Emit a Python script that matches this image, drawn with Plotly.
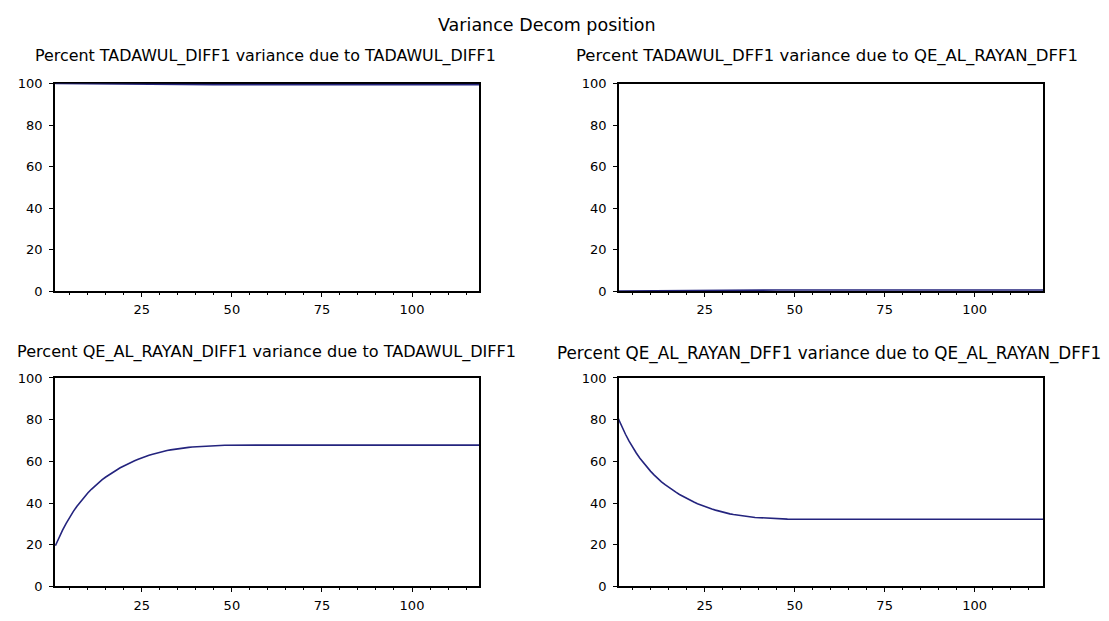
import plotly.graph_objects as go

# page body has an 8px margin, so the figure is drawn 8px in from the window edge
OFF = 8
W, H = 1109 - 2 * OFF, 621 - 2 * OFF

# ---- data ----
periods = list(range(1, 49)) + [60, 80, 100, 120]

tadawul_own = [100.0, 99.98, 99.96, 99.94, 99.92, 99.9, 99.88, 99.86, 99.84, 99.82,
               99.8, 99.79, 99.78, 99.77, 99.76, 99.75, 99.74, 99.73, 99.72, 99.71,
               99.7, 99.69, 99.68, 99.67, 99.66, 99.65, 99.64, 99.63, 99.62, 99.61,
               99.6, 99.6, 99.59, 99.59, 99.58, 99.58, 99.57, 99.57, 99.56, 99.56,
               99.5, 99.5, 99.5, 99.5, 99.5, 99.5, 99.5, 99.5,
               99.5, 99.5, 99.5, 99.5]

tadawul_by_qe = [0.0, 0.02, 0.04, 0.06, 0.08, 0.1, 0.12, 0.14, 0.16, 0.18,
                 0.2, 0.21, 0.22, 0.23, 0.24, 0.25, 0.26, 0.27, 0.28, 0.29,
                 0.3, 0.31, 0.32, 0.33, 0.34, 0.35, 0.36, 0.37, 0.38, 0.39,
                 0.4, 0.4, 0.41, 0.41, 0.42, 0.42, 0.43, 0.43, 0.44, 0.44,
                 0.5, 0.5, 0.5, 0.5, 0.5, 0.5, 0.5, 0.5,
                 0.5, 0.5, 0.5, 0.5]

qe_by_tadawul = [19.5, 23.5, 27.0, 30.3, 33.3, 36.0, 38.5, 40.8, 42.9, 44.8,
                 46.6, 48.3, 49.8, 51.2, 52.5, 53.7, 54.8, 55.9, 56.9, 57.8,
                 58.7, 59.5, 60.3, 61.0, 61.7, 62.3, 62.9, 63.4, 63.9, 64.4,
                 64.8, 65.2, 65.5, 65.8, 66.1, 66.3, 66.5, 66.7, 66.9, 67.0,
                 67.1, 67.2, 67.3, 67.4, 67.5, 67.5, 67.6, 67.7,
                 67.8, 67.8, 67.8, 67.8]

qe_own = [80.5, 76.5, 73.0, 69.7, 66.7, 64.0, 61.5, 59.2, 57.1, 55.2,
          53.4, 51.7, 50.2, 48.8, 47.5, 46.3, 45.2, 44.1, 43.1, 42.2,
          41.3, 40.5, 39.7, 39.0, 38.3, 37.7, 37.1, 36.6, 36.1, 35.6,
          35.2, 34.8, 34.5, 34.2, 33.9, 33.7, 33.5, 33.3, 33.1, 33.0,
          32.9, 32.8, 32.7, 32.6, 32.5, 32.5, 32.4, 32.3,
          32.2, 32.2, 32.2, 32.2]

panel_titles = [
    "Percent TADAWUL_DIFF1 variance due to TADAWUL_DIFF1",
    "Percent TADAWUL_DFF1 variance due to QE_AL_RAYAN_DFF1",
    "Percent QE_AL_RAYAN_DIFF1 variance due to TADAWUL_DIFF1",
    "Percent QE_AL_RAYAN_DFF1 variance due to QE_AL_RAYAN_DFF1",
]
main_title = "Variance Decom position"
x_tick_vals = [25, 50, 75, 100]
y_tick_vals = [0, 20, 40, 60, 80, 100]

series = [tadawul_own, tadawul_by_qe, qe_by_tadawul, qe_own]

# ---- layout (window-pixel boxes: left, right, top, bottom) ----
boxes = [(55, 479, 79, 294), (619, 1043, 79, 294),
         (55, 479, 384, 600), (619, 1043, 384, 600)]
title_pos = [(265, 50), (827, 50), (266, 357), (829, 359)]
title_size = [15.9, 16.5, 16.1, 16.8]
x_ranges = [[0.9, 118.6], [1.2, 119.0], [0.9, 118.6], [1.2, 119.0]]


def px_x(p):
    return (p - OFF) / W


def px_y(p):
    return 1 - (p - OFF) / H


FONT = "DejaVu Sans"
LINE = "#24247e"

fig = go.Figure()
layout = dict(width=W, height=H, margin=dict(l=0, r=0, t=0, b=0),
              paper_bgcolor="white", plot_bgcolor="white", showlegend=False,
              font=dict(family=FONT, color="black", size=12))
annotations = []
for i, (ys, (l, r, t, b)) in enumerate(zip(series, boxes)):
    n = "" if i == 0 else str(i + 1)
    fig.add_trace(go.Scatter(x=periods, y=ys, mode="lines",
                             line=dict(color=LINE, width=1.6),
                             xaxis="x" + n, yaxis="y" + n, hoverinfo="skip"))
    layout["xaxis" + n] = dict(
        domain=[px_x(l), px_x(r)], anchor="y" + n, range=x_ranges[i],
        tickvals=x_tick_vals, ticks="outside", ticklen=4, tickwidth=1.3,
        tickcolor="black", showline=True, linecolor="black", linewidth=1.6,
        mirror=True, showgrid=False, zeroline=False, layer="below traces",
        ticklabelstandoff=2,
        tickfont=dict(family=FONT, size=13, color="black"),
        minor=dict(dtick=5, tick0=0, ticks="outside", ticklen=2,
                   tickwidth=1.2, tickcolor="black", showgrid=False),
    )
    layout["yaxis" + n] = dict(
        domain=[px_y(b), px_y(t)], anchor="x" + n, range=[0, 100],
        tickvals=y_tick_vals, ticks="outside", ticklen=4, tickwidth=1.3,
        tickcolor="black", showline=True, linecolor="black", linewidth=1.6,
        mirror=True, showgrid=False, zeroline=False, layer="below traces",
        ticklabelstandoff=4,
        tickfont=dict(family=FONT, size=13, color="black"),
    )
    tx, ty = title_pos[i]
    annotations.append(dict(text=panel_titles[i], x=px_x(tx), y=px_y(ty),
                            xref="paper", yref="paper",
                            xanchor="center", yanchor="middle", showarrow=False,
                            font=dict(family=FONT, size=title_size[i],
                                      color="black")))

annotations.append(dict(text=main_title, x=px_x(547), y=px_y(18),
                        xref="paper", yref="paper", xanchor="center",
                        yanchor="middle", showarrow=False,
                        font=dict(family=FONT, size=17.5, color="black")))
layout["annotations"] = annotations
fig.update_layout(**layout)
fig.write_html("out.html")
